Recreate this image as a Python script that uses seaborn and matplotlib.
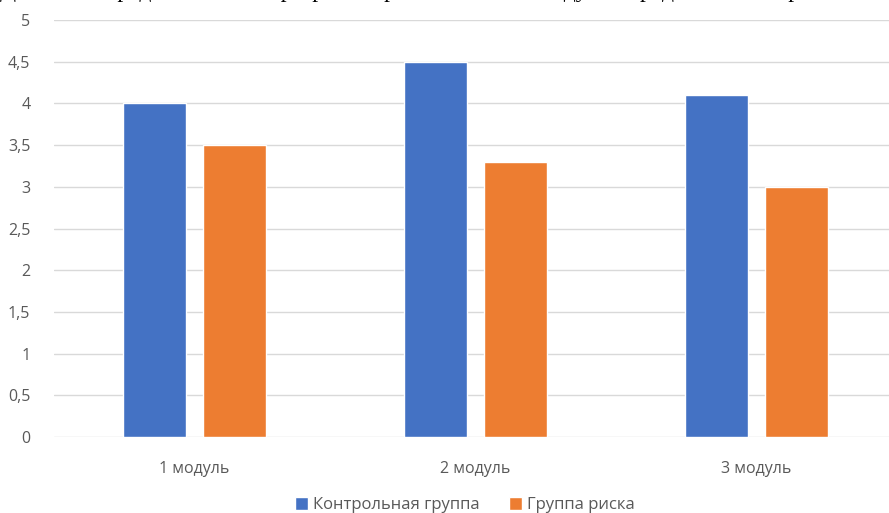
import matplotlib
matplotlib.use("Agg")
import matplotlib.pyplot as plt
import pandas as pd
import seaborn as sns
from matplotlib.ticker import FuncFormatter, MultipleLocator

modules = ["1 модуль", "2 модуль", "3 модуль"]
groups = ["Контрольная группа", "Группа риска"]
control = [4.0, 4.5, 4.1]
risk = [3.5, 3.3, 3.0]
title = "Динамика среднего балла в разрезе образовательных модулей предметной направленности"

df = pd.DataFrame({
    "Модуль": modules * 2,
    "Группа": [groups[0]] * 3 + [groups[1]] * 3,
    "Балл": control + risk,
})

sns.set_theme(style="white")
plt.rcParams["font.family"] = ["Open Sans", "DejaVu Sans"]

fig = plt.figure(figsize=(8.89, 5.13), dpi=100)
ax = fig.add_axes([0.0607, 0.148, 0.948, 0.813])

sns.barplot(data=df, x="Модуль", y="Балл", hue="Группа",
            palette=["#4472C4", "#ED7D31"], width=0.57, gap=0.21,
            saturation=1, ax=ax, legend=True)

ax.set_ylim(0, 5)
ax.set_xlim(-0.5, 2.5)
ax.yaxis.set_major_locator(MultipleLocator(0.5))
ax.yaxis.set_major_formatter(FuncFormatter(lambda v, p: f"{v:g}".replace(".", ",")))
ax.grid(axis="y", color="#D9D9D9", linewidth=1)
ax.set_axisbelow(True)
for s in ax.spines.values():
    s.set_visible(False)
ax.set_xlabel("")
ax.set_ylabel("")
ax.tick_params(axis="y", labelsize=11.5, labelcolor="#595959", length=0, pad=17)
ax.tick_params(axis="x", labelsize=11.5, labelcolor="#595959", length=0, pad=17)

handles, labels = ax.get_legend_handles_labels()
ax.legend_.remove()
fig.legend(handles, labels, loc="center", bbox_to_anchor=(0.523, 0.015),
           ncol=2, frameon=False, fontsize=12, labelcolor="#595959",
           handlelength=0.75, handleheight=0.75, handletextpad=0.3, columnspacing=1.8)

# title is cropped at the top edge in the source image
fig.text(0.0, 1 + 2.5 / 513, title, family=["Liberation Serif"], fontsize=17,
         va="baseline", ha="left", color="#000000")

fig.savefig("out.png", dpi=100)
